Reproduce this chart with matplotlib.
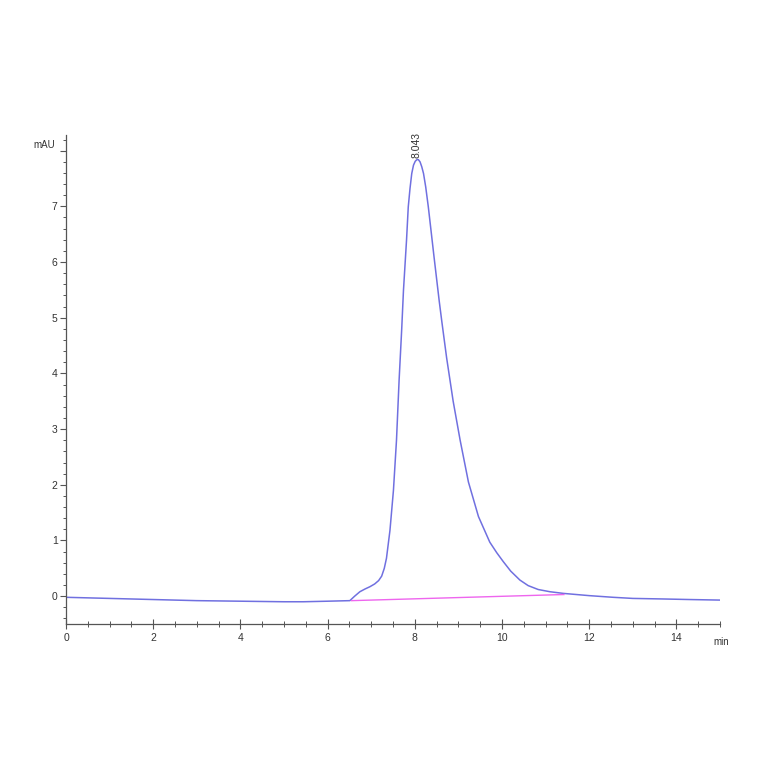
import matplotlib
matplotlib.use('Agg')
import matplotlib.pyplot as plt
from matplotlib.ticker import MultipleLocator, FixedLocator

plt.rcParams['font.family'] = ['Liberation Sans', 'DejaVu Sans']

# chromatogram points (min, mAU)
time_min = [0.0, 1.0, 2.0, 3.0, 4.0, 5.0, 5.44, 6.0, 6.51, 6.62, 6.74, 6.86, 6.97,
            7.08, 7.17, 7.24, 7.30, 7.35, 7.43, 7.51, 7.58, 7.64, 7.70, 7.74,
            7.81, 7.85, 7.89, 7.93, 7.97, 8.01, 8.05, 8.08, 8.12, 8.16, 8.20,
            8.25, 8.31, 8.37, 8.44, 8.50, 8.56, 8.62, 8.73, 8.88, 9.04, 9.23,
            9.46, 9.72, 9.88, 10.03, 10.20, 10.41, 10.60, 10.83, 11.1, 11.41,
            12.0, 12.55, 13.0, 13.70, 14.3, 15.0]
signal_mau = [-0.02, -0.04, -0.06, -0.08, -0.09, -0.10, -0.10, -0.09, -0.08, 0.00,
              0.08, 0.13, 0.17, 0.22, 0.28, 0.36, 0.50, 0.68, 1.18, 1.90, 2.80,
              3.88, 4.80, 5.49, 6.39, 6.99, 7.32, 7.59, 7.74, 7.81, 7.84, 7.84,
              7.80, 7.71, 7.59, 7.35, 6.99, 6.58, 6.10, 5.70, 5.30, 4.93, 4.28,
              3.50, 2.80, 2.05, 1.43, 0.97, 0.78, 0.62, 0.45, 0.29, 0.19, 0.12,
              0.08, 0.05, 0.01, -0.02, -0.04, -0.05, -0.06, -0.07]

# integration baseline
base_t = [6.55, 11.42]
base_y = [-0.08, 0.03]

peak_t = 8.043
peak_label = '8.043'

fig = plt.figure(figsize=(7.64, 7.64), dpi=100)
ax = fig.add_axes([0.0864, 0.1832, 0.856, 0.640])

ax.plot(time_min, signal_mau, color='#7070e0', linewidth=1.1)
ax.plot(base_t, base_y, color='#ee66ee', linewidth=1.0)

ax.set_xlim(0, 15)
ax.set_ylim(-0.5, 8.28)

for s in ['top', 'right']:
    ax.spines[s].set_visible(False)
for s in ['left', 'bottom']:
    ax.spines[s].set_color('#555555')
    ax.spines[s].set_linewidth(0.9)

ax.xaxis.set_major_locator(MultipleLocator(2))
ax.xaxis.set_minor_locator(MultipleLocator(0.5))
ax.yaxis.set_major_locator(FixedLocator(list(range(0, 9))))
ax.yaxis.set_minor_locator(MultipleLocator(0.2))
ax.set_yticklabels([str(i) for i in range(0, 8)] + [''])

ax.tick_params(axis='x', which='major', direction='inout', length=7, width=0.8,
               colors='#555555', labelcolor='#333333', labelsize=7.5, pad=3)
ax.tick_params(axis='x', which='minor', direction='inout', length=4, width=0.7, colors='#555555')
ax.tick_params(axis='y', which='major', direction='out', length=4, width=0.8,
               colors='#555555', labelcolor='#333333', labelsize=7.5, pad=2)
ax.tick_params(axis='y', which='minor', direction='out', length=2.5, width=0.7, colors='#555555')

ax.text(-0.25, 8.1, 'mAU', ha='right', va='center', fontsize=7, color='#333333')
ax.text(14.85, -0.82, 'min', ha='left', va='center', fontsize=7, color='#333333')

ax.text(peak_t, 7.86, peak_label, rotation=90, ha='center', va='bottom',
        fontsize=7.5, color='#333333')

fig.savefig('out.png', dpi=100)
